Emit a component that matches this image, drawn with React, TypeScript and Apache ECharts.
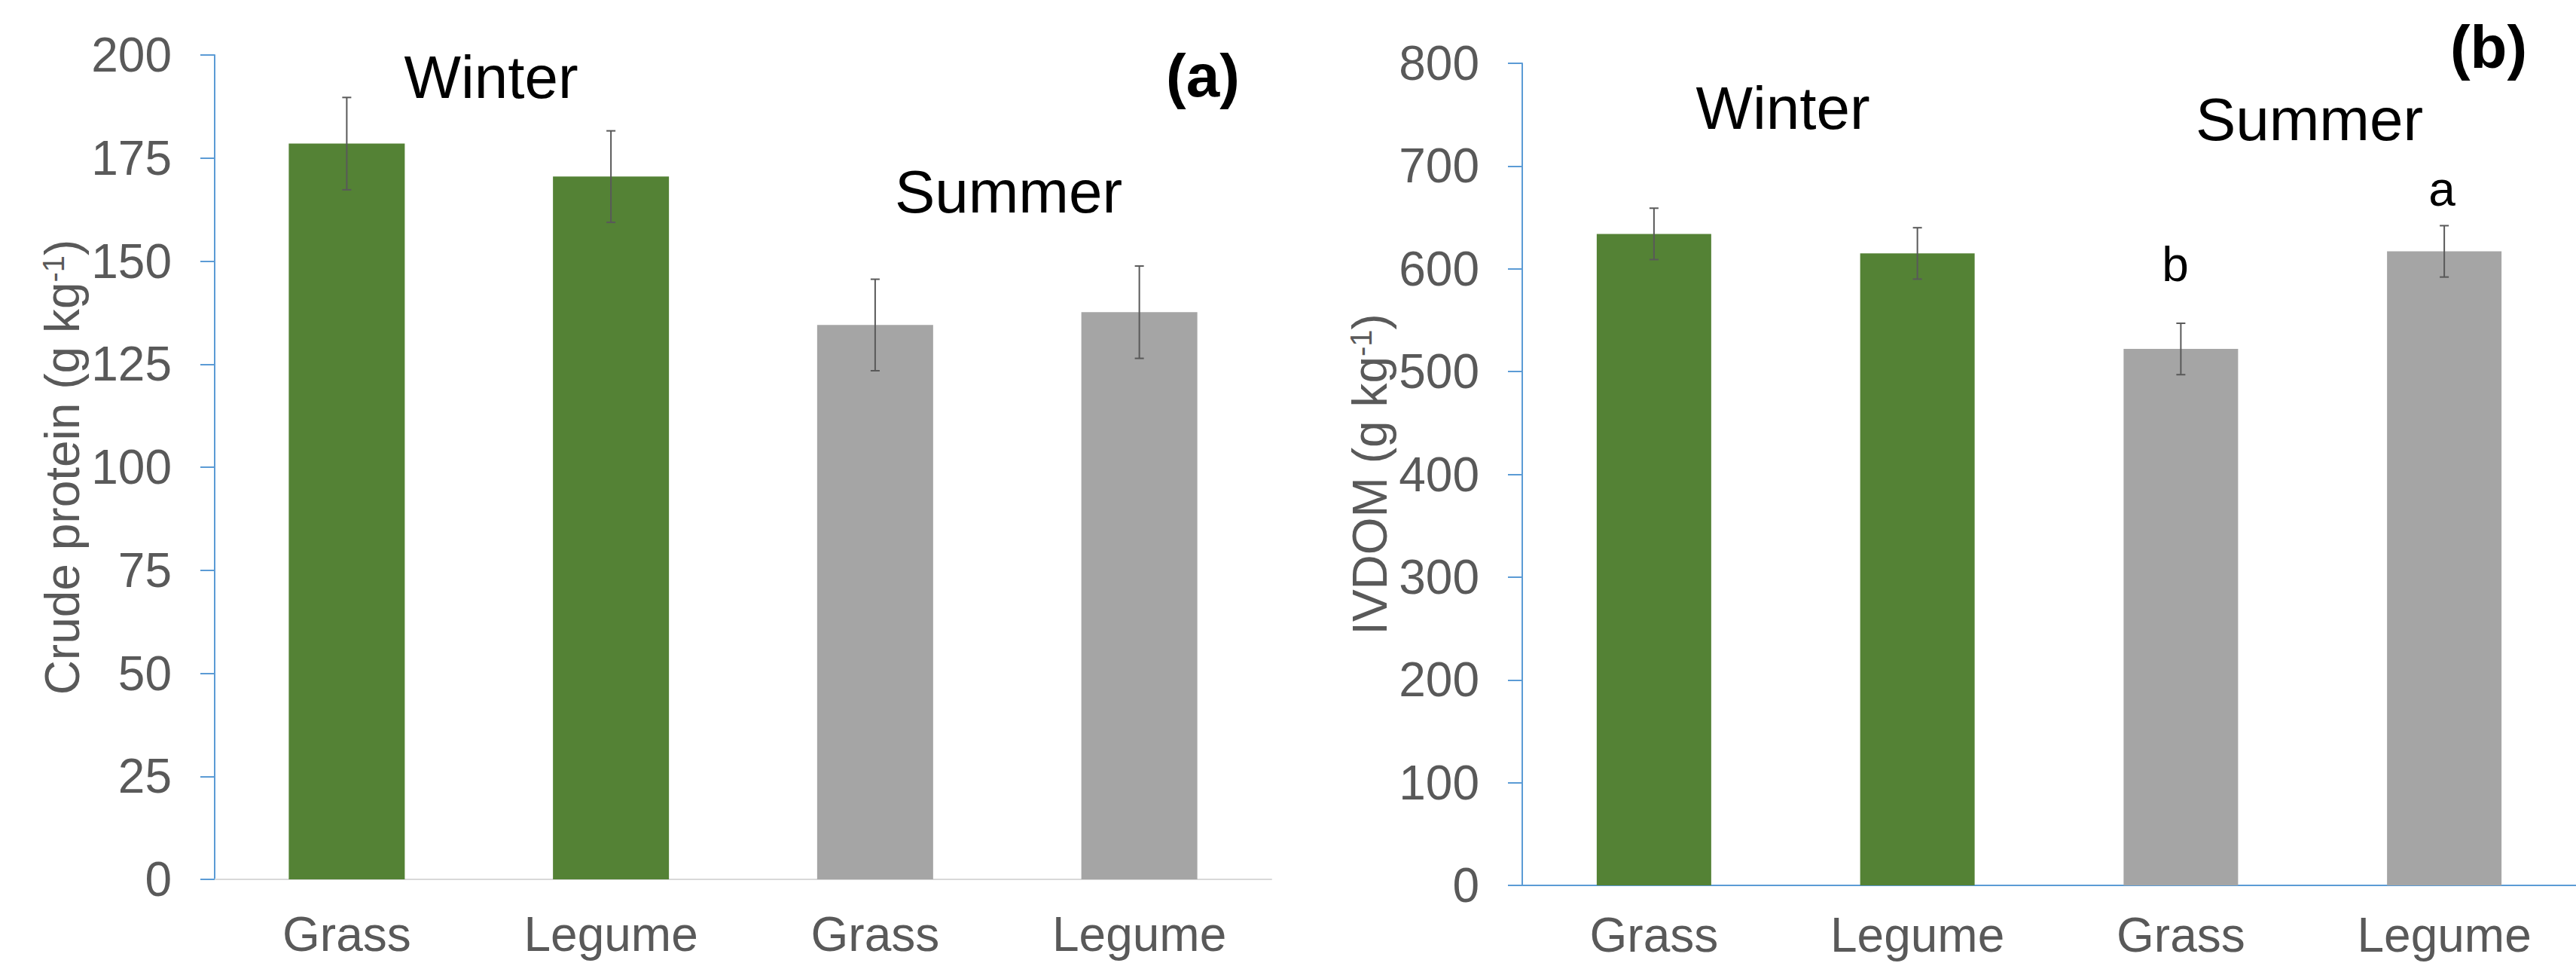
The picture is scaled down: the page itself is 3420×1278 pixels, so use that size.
import React, { useEffect, useRef } from "react";
import * as echarts from "echarts";

// ---- data ----
const categories = ["Grass", "Legume", "Grass", "Legume"];
const seasons = ["Winter", "Winter", "Summer", "Summer"];
const crudeProtein = [178.5, 170.5, 134.5, 137.6];
const crudeProteinErr = [11.2, 11.1, 11.1, 11.2];
const ivdom = [634, 615, 522, 617];
const ivdomErr = [25, 25, 25, 25];
const cpAxis = [0, 200, 25]; // min, max, interval
const ivdomAxis = [0, 800, 100];
const sigLetters = ["", "", "b", "a"]; // panel (b) summer letters

const GREEN = "#548235";
const GRAY = "#A5A5A5";
const BLUE = "#5B9BD5";
const TXT = "#595959";
const FONT = "'Liberation Sans', Arial, sans-serif";

function barData(vals: number[]) {
  return vals.map((v, i) => ({
    value: v,
    itemStyle: { color: seasons[i] === "Winter" ? GREEN : GRAY },
  }));
}

function errData(vals: number[], errs: number[]) {
  return vals.map((v, i) => [i, v - errs[i], v + errs[i]]);
}

function errRender(params: any, api: any) {
  const x = api.value(0);
  const lo = api.coord([x, api.value(1)]);
  const hi = api.coord([x, api.value(2)]);
  const cap = 6;
  const style = { stroke: "#595959", lineWidth: 2 };
  return {
    type: "group",
    children: [
      { type: "line", shape: { x1: lo[0], y1: lo[1], x2: hi[0], y2: hi[1] }, style },
      { type: "line", shape: { x1: hi[0] - cap, y1: hi[1], x2: hi[0] + cap, y2: hi[1] }, style },
      { type: "line", shape: { x1: lo[0] - cap, y1: lo[1], x2: lo[0] + cap, y2: lo[1] }, style },
    ],
  };
}

export default function App() {
  const ref = useRef<HTMLDivElement>(null);
  useEffect(() => {
    if (!ref.current) return;
    const chart = echarts.init(ref.current, undefined, { renderer: "svg" });
    const yAxisCommon = (min: number, max: number, interval: number, name: string, gi: number) => ({
      type: "value",
      gridIndex: gi,
      min,
      max,
      interval,
      name,
      nameLocation: "middle",
      nameGap: 170,
      nameTextStyle: {
        fontSize: 64,
        color: TXT,
        fontFamily: FONT,
        rich: {
          sup: { fontSize: 40, color: TXT, fontFamily: FONT, verticalAlign: "top", padding: [0, 0, 18, 0] },
        },
      },
      splitLine: { show: false },
      axisLine: { show: true, lineStyle: { color: BLUE, width: 2 } },
      axisTick: { show: true, length: 19, lineStyle: { color: BLUE, width: 2 } },
      axisLabel: { fontSize: 64, color: TXT, fontFamily: FONT, margin: 57 },
    });
    const xAxisCommon = (gi: number, lineColor: string, margin: number) => ({
      type: "category",
      gridIndex: gi,
      data: categories,
      axisTick: { show: false },
      axisLine: { show: true, lineStyle: { color: lineColor, width: 2 } },
      axisLabel: { fontSize: 64, color: TXT, fontFamily: FONT, margin, interval: 0 },
    });
    const textEl = (text: string, x: number, y: number, size: number, bold = false) => ({
      type: "text",
      x,
      y,
      style: {
        text,
        fill: "#000",
        font: `${bold ? "bold " : ""}${size}px ${FONT}`,
        textAlign: "center",
        textVerticalAlign: "middle",
      },
    });
    const option: any = {
      animation: false,
      backgroundColor: "#fff",
      grid: [
        { left: 285, top: 73, width: 1403, height: 1094 },
        { left: 2021, top: 84, width: 1399, height: 1091 },
      ],
      xAxis: [xAxisCommon(0, "#D9D9D9", 41), xAxisCommon(1, BLUE, 34)],
      yAxis: [
        yAxisCommon(cpAxis[0], cpAxis[1], cpAxis[2], "Crude protein (g kg{sup|-1})", 0),
        yAxisCommon(ivdomAxis[0], ivdomAxis[1], ivdomAxis[2], "IVDOM (g kg{sup|-1})", 1),
      ],
      series: [
        { type: "bar", xAxisIndex: 0, yAxisIndex: 0, data: barData(crudeProtein), barWidth: 154 },
        { type: "bar", xAxisIndex: 1, yAxisIndex: 1, data: barData(ivdom), barWidth: 152 },
        {
          type: "custom",
          xAxisIndex: 0,
          yAxisIndex: 0,
          renderItem: errRender,
          data: errData(crudeProtein, crudeProteinErr),
          encode: { x: 0, y: [1, 2] },
          z: 10,
        },
        {
          type: "custom",
          xAxisIndex: 1,
          yAxisIndex: 1,
          renderItem: errRender,
          data: errData(ivdom, ivdomErr),
          encode: { x: 0, y: [1, 2] },
          z: 10,
        },
      ],
      graphic: [
        textEl("Winter", 652, 102, 80),
        textEl("Summer", 1339, 254, 80),
        textEl("(a)", 1597, 100, 80, true),
        textEl("Winter", 2367, 143, 80),
        textEl("Summer", 3066, 158, 80),
        textEl("(b)", 3304, 62, 80, true),
        textEl(sigLetters[2], 2888, 351, 64),
        textEl(sigLetters[3], 3242, 251, 64),
      ],
    };
    chart.setOption(option);
    return () => chart.dispose();
  }, []);
  return (
    <div
      ref={ref}
      style={{ position: "absolute", left: 0, top: 0, width: 3420, height: 1278 }}
    />
  );
}
